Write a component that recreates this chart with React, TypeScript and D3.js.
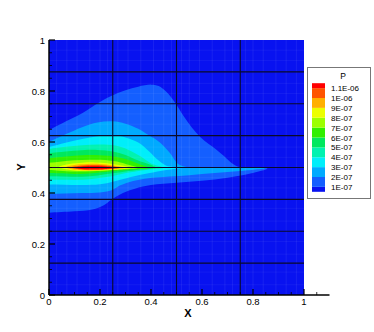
import React from "react";
import * as d3 from "d3";

const W = 374;
const H = 332;

// axis ticks
const xMajor = [0, 0.2, 0.4, 0.6, 0.8, 1];
const xLabels = ["0", "0.2", "0.4", "0.6", "0.8", "1"];
const yMajor = [0, 0.2, 0.4, 0.6, 0.8, 1];
const yLabels = ["0", "0.2", "0.4", "0.6", "0.8", "1"];
const xMinor = [0.05, 0.1, 0.15, 0.25, 0.3, 0.35, 0.45, 0.5, 0.55, 0.65, 0.7, 0.75, 0.85, 0.9, 0.95, 1.05];
const yMinor = [0.05, 0.1, 0.15, 0.25, 0.3, 0.35, 0.45, 0.5, 0.55, 0.65, 0.7, 0.75, 0.85, 0.9, 0.95];

// zone boundaries (dark mesh lines)
const zoneX = [0.25, 0.5, 0.75];
const zoneY = [0.125, 0.25, 0.375, 0.5, 0.625, 0.75, 0.875];

// contour levels of P
const levelValues = [1e-7, 2e-7, 3e-7, 4e-7, 5e-7, 6e-7, 7e-7, 8e-7, 9e-7, 1e-6, 1.1e-6];
const levelLabels = ["1E-07", "2E-07", "3E-07", "4E-07", "5E-07", "6E-07", "7E-07", "8E-07", "9E-07", "1E-06", "1.1E-06"];
// band colours, lowest band first
const bandColors = [
  "#0812f0", "#145fff", "#00aaff", "#00eefa", "#00f2b0", "#00e85e",
  "#30ef00", "#9cff00", "#ecff00", "#ffb000", "#ff5400", "#ff0000",
];

// contour regions (x, y), region P >= level
const regionL1: [number, number][] = [
  [-0.05, 0.625], [0, 0.647], [0.065, 0.68], [0.13, 0.713], [0.2, 0.757], [0.25, 0.783], [0.3, 0.803],
  [0.35, 0.817], [0.4, 0.825], [0.43, 0.82], [0.46, 0.797], [0.494, 0.755], [0.527, 0.703], [0.56, 0.657],
  [0.592, 0.621], [0.625, 0.593], [0.658, 0.569], [0.685, 0.546], [0.71, 0.523], [0.742, 0.503], [0.8, 0.499],
  [0.857, 0.496], [0.79, 0.476], [0.7, 0.46], [0.6, 0.448], [0.5, 0.44], [0.4, 0.431], [0.34, 0.418],
  [0.29, 0.4], [0.25, 0.377], [0.215, 0.352], [0.17, 0.335], [0.1, 0.328], [0, 0.323], [-0.05, 0.322],
];
const regionL2: [number, number][] = [
  [-0.05, 0.585], [0, 0.601], [0.065, 0.63], [0.13, 0.658], [0.19, 0.676], [0.248, 0.681], [0.3, 0.672],
  [0.35, 0.652], [0.392, 0.626], [0.435, 0.598], [0.475, 0.556], [0.505, 0.515], [0.54, 0.502], [0.65, 0.5],
  [0.75, 0.499], [0.847, 0.497], [0.75, 0.486], [0.65, 0.478], [0.55, 0.47], [0.45, 0.463], [0.39, 0.458],
  [0.33, 0.447], [0.28, 0.43], [0.25, 0.413], [0.2, 0.402], [0.13, 0.4], [0.06, 0.398], [0, 0.397], [-0.05, 0.397],
];
const regionL3: [number, number][] = [
  [-0.05, 0.565], [0, 0.58], [0.065, 0.597], [0.13, 0.612], [0.19, 0.623], [0.25, 0.627], [0.3, 0.618],
  [0.35, 0.598], [0.396, 0.56], [0.43, 0.527], [0.46, 0.507], [0.52, 0.499], [0.46, 0.49], [0.39, 0.477],
  [0.33, 0.465], [0.28, 0.452], [0.25, 0.444], [0.2, 0.434], [0.13, 0.431], [0.06, 0.432], [0, 0.433], [-0.05, 0.433],
];
const regionL4: [number, number][] = [
  [-0.05, 0.56], [0, 0.572], [0.065, 0.581], [0.13, 0.587], [0.2, 0.59], [0.26, 0.586], [0.31, 0.57],
  [0.36, 0.543], [0.4, 0.516], [0.45, 0.499], [0.38, 0.49], [0.32, 0.481], [0.25, 0.467], [0.19, 0.458],
  [0.13, 0.452], [0.06, 0.452], [0, 0.453], [-0.05, 0.453],
];
const regionL5: [number, number][] = [
  [-0.05, 0.548], [0, 0.556], [0.065, 0.563], [0.13, 0.568], [0.19, 0.569], [0.25, 0.563], [0.3, 0.549],
  [0.35, 0.527], [0.42, 0.499], [0.35, 0.491], [0.3, 0.484], [0.25, 0.477], [0.19, 0.469], [0.13, 0.464],
  [0.06, 0.465], [0, 0.466], [-0.05, 0.466],
];
const regionL6: [number, number][] = [
  [-0.05, 0.53], [0, 0.536], [0.065, 0.543], [0.13, 0.548], [0.18, 0.549], [0.25, 0.544], [0.3, 0.533],
  [0.345, 0.517], [0.39, 0.499], [0.33, 0.492], [0.28, 0.488], [0.22, 0.482], [0.16, 0.476], [0.1, 0.475],
  [0.04, 0.477], [0, 0.478], [-0.05, 0.478],
];
const regionL7: [number, number][] = [
  [-0.05, 0.516], [0, 0.519], [0.05, 0.524], [0.1, 0.528], [0.16, 0.53], [0.22, 0.529], [0.28, 0.52],
  [0.315, 0.51], [0.35, 0.499], [0.3, 0.493], [0.24, 0.489], [0.17, 0.485], [0.1, 0.484], [0.04, 0.487],
  [0, 0.49], [-0.05, 0.49],
];
const regionL8: [number, number][] = [
  [0.04, 0.503], [0.08, 0.514], [0.13, 0.519], [0.18, 0.52], [0.23, 0.517], [0.28, 0.509], [0.32, 0.499],
  [0.27, 0.492], [0.21, 0.488], [0.15, 0.486], [0.09, 0.489],
];
const regionL9: [number, number][] = [
  [0.065, 0.501], [0.1, 0.51], [0.15, 0.514], [0.2, 0.514], [0.25, 0.508], [0.297, 0.499], [0.25, 0.493],
  [0.19, 0.489], [0.13, 0.489], [0.09, 0.493],
];
const regionL10: [number, number][] = [
  [0.085, 0.5], [0.12, 0.507], [0.17, 0.51], [0.22, 0.508], [0.277, 0.499], [0.22, 0.493], [0.16, 0.491], [0.11, 0.494],
];
const regionL11: [number, number][] = [
  [0.1, 0.5], [0.14, 0.505], [0.19, 0.506], [0.235, 0.503], [0.262, 0.499], [0.22, 0.494], [0.16, 0.493], [0.12, 0.495],
];
const regions = [regionL1, regionL2, regionL3, regionL4, regionL5, regionL6, regionL7, regionL8, regionL9, regionL10, regionL11];

// faint computational mesh lines
const meshX = [0.03, 0.07, 0.11, 0.16, 0.2, 0.23, 0.27, 0.31, 0.36, 0.41, 0.45, 0.48, 0.52, 0.55, 0.59, 0.64, 0.69, 0.72, 0.77, 0.8, 0.84, 0.89, 0.93, 0.97];
const meshY = [0.04, 0.09, 0.16, 0.21, 0.29, 0.34, 0.42, 0.46, 0.54, 0.58, 0.67, 0.71, 0.79, 0.83, 0.92, 0.96];

const FONT = "'Liberation Sans', Arial, Helvetica, sans-serif";

export default function App() {
  const x = d3.scaleLinear().domain([0, 1]).range([49, 304]);
  const y = d3.scaleLinear().domain([0, 1]).range([295, 40]);
  const line = d3
    .line<[number, number]>()
    .x((d) => x(d[0]))
    .y((d) => y(d[1]))
    .curve(d3.curveCatmullRomClosed.alpha(0.5));

  // legend scale: level value -> pixel
  const ly = d3.scaleLinear().domain([0.5e-7, 1.15e-6]).range([191.8, 83.2]);
  const legendEdges = [0.5e-7, ...levelValues, 1.15e-6];

  const x0 = x(0), x1 = x(1), y0 = y(0), y1 = y(1);

  return (
    <svg width={W} height={H} style={{ position: "absolute", left: 0, top: 0, background: "#fff" }} fontFamily={FONT}>
      <defs>
        <clipPath id="plotClip">
          <rect x={x0} y={y1} width={x1 - x0} height={y0 - y1} />
        </clipPath>
      </defs>
      <g clipPath="url(#plotClip)">
        <rect x={x0} y={y1} width={x1 - x0} height={y0 - y1} fill={bandColors[0]} />
        {regions.map((r, i) => (
          <path key={i} d={line(r) || ""} fill={bandColors[i + 1]} />
        ))}
        {meshX.map((v) => (
          <line key={"mx" + v} x1={x(v)} x2={x(v)} y1={y0} y2={y1} stroke="#fff" strokeOpacity={0.07} strokeWidth={1} />
        ))}
        {meshY.map((v) => (
          <line key={"my" + v} x1={x0} x2={x1} y1={y(v)} y2={y(v)} stroke="#fff" strokeOpacity={0.05} strokeWidth={1} />
        ))}
        {zoneX.map((v) => (
          <line key={"zx" + v} x1={x(v)} x2={x(v)} y1={y0} y2={y1} stroke="#0a0a2a" strokeWidth={1.1} />
        ))}
        {zoneY.map((v) => (
          <line key={"zy" + v} x1={x0} x2={x1} y1={y(v)} y2={y(v)} stroke="#0a0a2a" strokeWidth={1.1} />
        ))}
      </g>

      {/* axes */}
      <line x1={x0} x2={x0} y1={y0} y2={y1} stroke="#000" strokeWidth={1.5} />
      <line x1={x0} x2={x(1.1)} y1={y0} y2={y0} stroke="#000" strokeWidth={1.5} />
      {xMajor.map((v) => (
        <line key={"xM" + v} x1={x(v)} x2={x(v)} y1={y0} y2={y0 - 6} stroke="#000" strokeWidth={1.2} />
      ))}
      {xMinor.map((v) => (
        <line key={"xm" + v} x1={x(v)} x2={x(v)} y1={y0} y2={y0 - 3} stroke="#000" strokeWidth={0.8} />
      ))}
      {yMajor.map((v) => (
        <line key={"yM" + v} x1={x0} x2={x0 + 6} y1={y(v)} y2={y(v)} stroke="#000" strokeWidth={1.2} />
      ))}
      {yMinor.map((v) => (
        <line key={"ym" + v} x1={x0} x2={x0 + 3} y1={y(v)} y2={y(v)} stroke="#000" strokeWidth={0.8} />
      ))}
      {xMajor.map((v, i) => (
        <text key={"xl" + v} x={x(v)} y={y0 + 10} fontSize={9.5} textAnchor="middle" fill="#000">
          {xLabels[i]}
        </text>
      ))}
      {yMajor.map((v, i) => (
        <text key={"yl" + v} x={x0 - 4} y={y(v) + 3.5} fontSize={9.5} textAnchor="end" fill="#000">
          {yLabels[i]}
        </text>
      ))}
      <text x={188} y={316.5} fontSize={11} fontWeight="bold" textAnchor="middle">X</text>
      <text transform="translate(25,167) rotate(-90)" fontSize={11} fontWeight="bold" textAnchor="middle">Y</text>

      {/* legend */}
      <rect x={307.5} y={67.5} width={63} height={131} fill="#fff" stroke="#777" strokeWidth={1} />
      <text x={343} y={78.5} fontSize={8.5} textAnchor="middle">P</text>
      {bandColors.map((c, i) => (
        <rect key={"lb" + i} x={312} y={ly(legendEdges[i + 1])} width={13} height={ly(legendEdges[i]) - ly(legendEdges[i + 1])} fill={c} />
      ))}
      {levelValues.map((v, i) => (
        <text key={"ll" + i} x={331} y={ly(v) + 3} fontSize={8} fill="#000">
          {levelLabels[i]}
        </text>
      ))}
    </svg>
  );
}
